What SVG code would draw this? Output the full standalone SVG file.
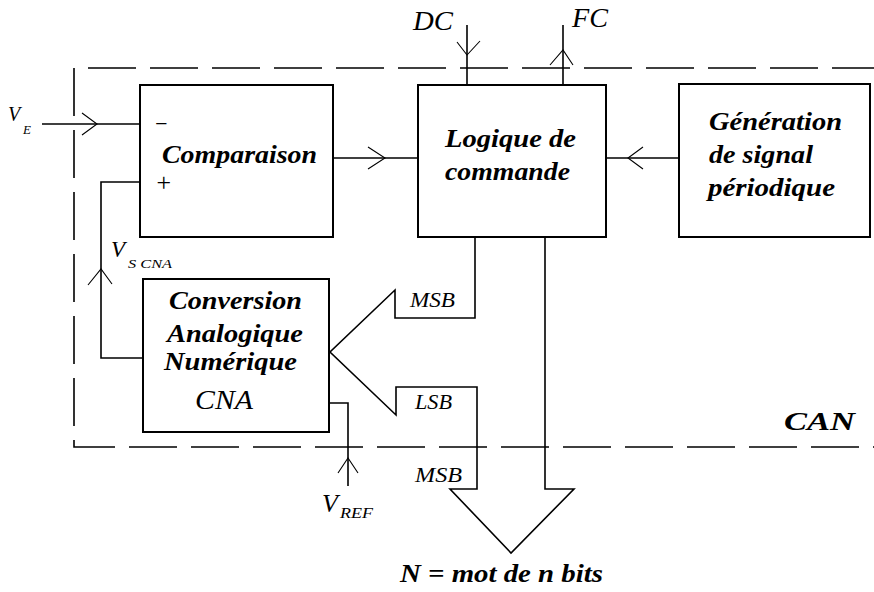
<svg xmlns="http://www.w3.org/2000/svg" width="874" height="592" viewBox="0 0 874 592">
<style>
  .box { fill: #ffffff; stroke: #000; stroke-width: 2; }
  .ln { fill: none; stroke: #000; stroke-width: 1.6; }
  .ah { fill: none; stroke: #000; stroke-width: 1.1; }
  .dash { fill: none; stroke: #000; stroke-width: 1.6; stroke-dasharray: 48 14; }
  text { font-family: "Liberation Serif", "Times New Roman", serif; fill: #000; font-style: italic; }
  .b { font-weight: bold; font-size: 26px; }
  .r { font-weight: normal; }
</style>
<rect width="874" height="592" fill="#ffffff"/>

<g id="can-boundary">
  <path class="dash" d="M880 68 H74 V447 H880"/>
  <text class="b" x="784" y="430" font-size="28" textLength="71" lengthAdjust="spacingAndGlyphs">CAN</text>
</g>

<g id="connectors">
  <!-- V_E input -->
  <path class="ln" d="M42 124 H140"/>
  <path class="ah" d="M82 113 L97 124 L82 135"/>
  <!-- Comparaison to Logique -->
  <path class="ln" d="M333 158 H418"/>
  <path class="ah" d="M368 147 L385 158 L368 169"/>
  <!-- Generation to Logique -->
  <path class="ln" d="M679 158 H606"/>
  <path class="ah" d="M643 147 L628 158 L643 169"/>
  <!-- DC -->
  <path class="ln" d="M467 25 V85"/>
  <path class="ah" d="M457 42 L467 55 L480 41"/>
  <!-- FC -->
  <path class="ln" d="M563 25 V86"/>
  <path class="ah" d="M550 65 L563 50 L573 65"/>
  <!-- feedback V_S CNA -->
  <path class="ln" d="M143 358 H101 V182 H140"/>
  <path class="ah" d="M88 285 L101 269 L112 284"/>
  <!-- V_REF -->
  <path class="ln" d="M329 403 H348 V486"/>
  <path class="ah" d="M338 473 L348 458 L358 473"/>
  <!-- digital bus -->
  <path class="ln" d="M475 237 V318 H395 V290 L330 352 L396 415 V387 H477 V489 H450 L511 553 L574 489 H545 V237"/>
</g>

<g id="comparaison">
  <rect class="box" x="140" y="85" width="193" height="152"/>
  <text class="b" x="162" y="163" textLength="155" lengthAdjust="spacingAndGlyphs">Comparaison</text>
  <text class="r" x="161" y="131" font-size="22" font-style="normal" text-anchor="middle">−</text>
  <text class="r" x="163.5" y="190.5" font-size="26" font-style="normal" text-anchor="middle">+</text>
</g>

<g id="logique">
  <rect class="box" x="418" y="85" width="188" height="152"/>
  <text class="b" x="445" y="147" textLength="131" lengthAdjust="spacingAndGlyphs">Logique de</text>
  <text class="b" x="445" y="180" textLength="125" lengthAdjust="spacingAndGlyphs">commande</text>
</g>

<g id="generation">
  <rect class="box" x="679" y="84" width="191" height="153"/>
  <text class="b" x="709" y="130" textLength="133" lengthAdjust="spacingAndGlyphs">Génération</text>
  <text class="b" x="709" y="163" textLength="104" lengthAdjust="spacingAndGlyphs">de signal</text>
  <text class="b" x="708" y="196" textLength="127" lengthAdjust="spacingAndGlyphs">périodique</text>
</g>

<g id="cna">
  <rect class="box" x="143" y="279" width="186" height="153"/>
  <text class="b" x="169" y="309" textLength="133" lengthAdjust="spacingAndGlyphs">Conversion</text>
  <text class="b" x="167" y="342" textLength="136" lengthAdjust="spacingAndGlyphs">Analogique</text>
  <text class="b" x="164" y="370" textLength="133" lengthAdjust="spacingAndGlyphs">Numérique</text>
  <text class="r" x="195" y="409" font-size="28" textLength="58" lengthAdjust="spacingAndGlyphs">CNA</text>
</g>

<g id="labels">
  <text class="r" x="8" y="121" font-size="20">V</text>
  <text class="r" x="23" y="134" font-size="13">E</text>
  <text class="r" x="111" y="257" font-size="23">V</text>
  <text class="r" x="128" y="268" font-size="13" textLength="44" lengthAdjust="spacingAndGlyphs">S CNA</text>
  <text class="r" x="322" y="512" font-size="26">V</text>
  <text class="r" x="340" y="518" font-size="15" textLength="33" lengthAdjust="spacingAndGlyphs">REF</text>
  <text class="r" x="413" y="30" font-size="28" textLength="40" lengthAdjust="spacingAndGlyphs">DC</text>
  <text class="r" x="572" y="27" font-size="28" textLength="36" lengthAdjust="spacingAndGlyphs">FC</text>
  <text class="r" x="410" y="307" font-size="21" textLength="45" lengthAdjust="spacingAndGlyphs">MSB</text>
  <text class="r" x="415" y="409" font-size="21" textLength="37" lengthAdjust="spacingAndGlyphs">LSB</text>
  <text class="r" x="415" y="482" font-size="21" textLength="47" lengthAdjust="spacingAndGlyphs">MSB</text>
  <text class="b" x="400" y="582" textLength="203" lengthAdjust="spacingAndGlyphs">N = mot de n bits</text>
</g>
</svg>
